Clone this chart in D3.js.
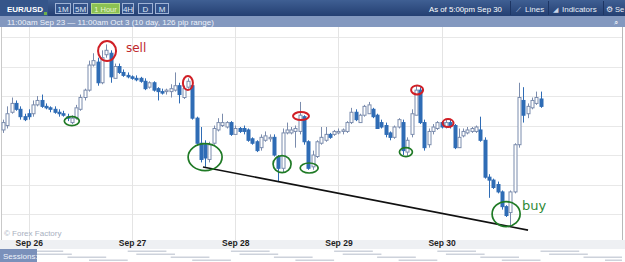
<!DOCTYPE html>
<html><head><meta charset="utf-8">
<script src="https://cdn.jsdelivr.net/npm/d3@7"></script>
<style>html,body{margin:0;padding:0;background:#fff;}svg{display:block;font-family:"Liberation Sans",Arial,sans-serif;}</style>
</head><body>
<script>
// ---- data (EUR/USD hourly candles, first candle Sep 25 18:00) ----
const firstCandle = Date.UTC(2016, 8, 25, 18);
const open = [1.1237,1.1240,1.1249,1.1255,1.1251,1.1246,1.1248,1.1248,1.1254,1.1257,
1.1253,1.1252,1.1251,1.1249,1.1248,1.1246,1.1242,1.1245,1.1251,1.1259,
1.1264,1.1281,1.1283,1.1269,1.1288,1.1289,1.1272,1.1280,1.1276,1.1274,
1.1273,1.1272,1.1272,1.1270,1.1266,1.1269,1.1265,1.1263,1.1263,1.1263,
1.1264,1.1267,1.1259,1.1266,1.1267,1.1245,1.1228,1.1227,1.1217,1.1228,
1.1237,1.1240,1.1239,1.1242,1.1234,1.1238,1.1238,1.1237,1.1231,1.1229,
1.1225,1.1230,1.1231,1.1232,1.1219,1.1211,1.1235,1.1235,1.1236,1.1236,
1.1246,1.1229,1.1212,1.1219,1.1228,1.1230,1.1234,1.1234,1.1235,1.1236,
1.1236,1.1242,1.1249,1.1242,1.1247,1.1248,1.1251,1.1247,1.1242,1.1240,
1.1235,1.1232,1.1239,1.1242,1.1222,1.1234,1.1247,1.1264,1.1242,1.1227,
1.1236,1.1238,1.1242,1.1239,1.1242,1.1240,1.1225,1.1233,1.1235,1.1236,
1.1236,1.1237,1.1230,1.1205,1.1203,1.1200,1.1195,1.1185,1.1181,1.1195,
1.1227,1.1257,1.1248,1.1252,1.1255,1.1258];
const high = [1.1244,1.1253,1.1259,1.1257,1.1253,1.1248,1.1251,1.1257,1.1260,1.1261,
1.1255,1.1253,1.1253,1.1251,1.1250,1.1248,1.1247,1.1254,1.1261,1.1265,
1.1284,1.1289,1.1286,1.1291,1.1295,1.1291,1.1282,1.1282,1.1278,1.1276,
1.1274,1.1274,1.1273,1.1272,1.1270,1.1270,1.1266,1.1265,1.1265,1.1268,
1.1276,1.1269,1.1267,1.1272,1.1269,1.1246,1.1239,1.1230,1.1229,1.1240,
1.1245,1.1248,1.1243,1.1243,1.1240,1.1239,1.1240,1.1238,1.1232,1.1230,
1.1234,1.1236,1.1234,1.1234,1.1220,1.1238,1.1242,1.1239,1.1240,1.1256,
1.1247,1.1230,1.1223,1.1230,1.1239,1.1239,1.1235,1.1237,1.1238,1.1238,
1.1243,1.1252,1.1251,1.1248,1.1254,1.1256,1.1252,1.1248,1.1244,1.1242,
1.1236,1.1240,1.1245,1.1244,1.1232,1.1251,1.1267,1.1266,1.1244,1.1238,
1.1241,1.1243,1.1243,1.1244,1.1244,1.1241,1.1238,1.1238,1.1239,1.1239,
1.1240,1.1246,1.1232,1.1207,1.1204,1.1202,1.1196,1.1186,1.1196,1.1228,
1.1269,1.1266,1.1255,1.1259,1.1263,1.1263];
const low = [1.1235,1.1238,1.1248,1.1250,1.1244,1.1243,1.1244,1.1246,1.1253,1.1252,
1.1251,1.1249,1.1248,1.1246,1.1246,1.1243,1.1241,1.1244,1.1250,1.1257,
1.1263,1.1280,1.1267,1.1268,1.1286,1.1269,1.1272,1.1275,1.1273,1.1272,
1.1271,1.1270,1.1269,1.1264,1.1265,1.1263,1.1257,1.1261,1.1261,1.1259,
1.1263,1.1255,1.1258,1.1265,1.1244,1.1227,1.1215,1.1212,1.1215,1.1227,
1.1236,1.1239,1.1238,1.1233,1.1234,1.1235,1.1234,1.1229,1.1227,1.1222,
1.1223,1.1229,1.1229,1.1219,1.1202,1.1208,1.1234,1.1234,1.1225,1.1234,
1.1227,1.1210,1.1210,1.1218,1.1227,1.1229,1.1231,1.1233,1.1234,1.1234,
1.1235,1.1241,1.1243,1.1242,1.1246,1.1248,1.1245,1.1238,1.1238,1.1232,
1.1230,1.1231,1.1238,1.1220,1.1219,1.1232,1.1247,1.1241,1.1223,1.1225,
1.1234,1.1237,1.1238,1.1238,1.1238,1.1224,1.1225,1.1232,1.1234,1.1235,
1.1235,1.1229,1.1204,1.1191,1.1197,1.1194,1.1183,1.1178,1.1172,1.1194,
1.1225,1.1242,1.1245,1.1251,1.1254,1.1252];
const close = [1.1242,1.1248,1.1255,1.1251,1.1246,1.1244,1.1246,1.1254,1.1257,1.1253,
1.1252,1.1251,1.1249,1.1248,1.1247,1.1245,1.1245,1.1252,1.1259,1.1264,
1.1281,1.1284,1.1269,1.1286,1.1291,1.1273,1.1280,1.1276,1.1274,1.1273,
1.1272,1.1271,1.1270,1.1265,1.1269,1.1264,1.1263,1.1262,1.1264,1.1265,
1.1267,1.1261,1.1265,1.1270,1.1245,1.1228,1.1217,1.1218,1.1227,1.1238,
1.1242,1.1242,1.1242,1.1234,1.1238,1.1236,1.1236,1.1230,1.1228,1.1223,
1.1232,1.1233,1.1232,1.1220,1.1211,1.1235,1.1237,1.1237,1.1238,1.1247,
1.1229,1.1211,1.1220,1.1229,1.1232,1.1234,1.1232,1.1236,1.1236,1.1237,
1.1242,1.1249,1.1244,1.1247,1.1253,1.1254,1.1246,1.1238,1.1239,1.1234,
1.1232,1.1239,1.1244,1.1223,1.1230,1.1248,1.1264,1.1242,1.1225,1.1236,
1.1239,1.1242,1.1239,1.1242,1.1240,1.1225,1.1232,1.1236,1.1237,1.1238,
1.1239,1.1230,1.1205,1.1203,1.1198,1.1195,1.1185,1.1179,1.1195,1.1227,
1.1259,1.1247,1.1253,1.1257,1.1259,1.1253];
const dayTicks = ["Sep 26","Sep 27","Sep 28","Sep 29","Sep 30"];
const gridPrices = [1.1300,1.1280,1.1260,1.1240,1.1220,1.1200,1.1180];
// annotations: candle index (hours from first candle) and price
const redMarks = [[24.2,1.12905,9,10],[43.0,1.12688,5,7],[69.3,1.12464,8,4],[96.3,1.12641,6,4.5],[103.5,1.12417,5.5,4]];
const greenMarks = [[16.0,1.12430,7.5,4.5],[47.0,1.12186,17,13.5],[64.9,1.12139,9,8.5],[71.2,1.12112,9,5],[93.7,1.12220,6.5,4.5],[117.0,1.11800,14,12.5]];
const trendLine = [[46.5,1.12119],[122.1,1.11691]];
const notes = [{text:"sell", h:28.6, p:1.12898, color:"#c0282d", size:12},{text:"buy", h:120.7, p:1.11830, color:"#2f8a37", size:13}];
const sessions = [[-1,9],[1,9],[9,9],[14,9]]; // start hour offset from midnight, length (Sydney, Tokyo, London, New York)

const W = 625, H = 262;
const HOUR = 3600e3;
const t = h => new Date(firstCandle + h*HOUR);
const svg = d3.select("body").append("svg").attr("width",W).attr("height",H);

const x = d3.scaleUtc().domain([t(-0.233), t(143.95)]).range([2,622]);
const y = d3.scaleLinear().domain([1.11624,1.13068]).range([240,27]);

// header
const defs = svg.append("defs");
const g1 = defs.append("linearGradient").attr("id","hdr").attr("x1",0).attr("x2",0).attr("y1",0).attr("y2",1);
g1.append("stop").attr("offset",0).attr("stop-color","#3f5f93");
g1.append("stop").attr("offset",1).attr("stop-color","#243f72");
svg.append("rect").attr("x",0).attr("y",0).attr("width",W).attr("height",16).attr("fill","url(#hdr)");
svg.append("rect").attr("x",0).attr("y",16).attr("width",W).attr("height",11).attr("fill","#8398bf");
svg.append("rect").attr("x",0).attr("y",0).attr("width",48).attr("height",16).attr("fill","#35558a");
svg.append("text").attr("x",7).attr("y",11.5).attr("fill","#fff").attr("font-weight","bold").attr("font-size",8).text("EUR/USD");
svg.append("rect").attr("x",44).attr("y",12).attr("width",3).attr("height",3).attr("fill","#6fb04a");
const buttons = [["1M",55,15],["5M",73,14],["1 Hour",91,28],["4H",122,11],["D",138,14],["M",155,13]];
buttons.forEach(([lab,bx,bw])=>{
  const on = lab==="1 Hour";
  svg.append("rect").attr("x",bx+0.5).attr("y",3.5).attr("width",bw).attr("height",10)
    .attr("fill",on?"#8cc152":"#34538a").attr("stroke",on?"#b5dc8a":"#9fb3d6").attr("stroke-width",1);
  svg.append("text").attr("x",bx+0.5+bw/2).attr("y",11.5).attr("text-anchor","middle")
    .attr("fill",on?"#e6f4d5":"#dfe8f6").attr("font-size",lab==="1 Hour"?7.5:8).text(lab);
});
svg.append("text").attr("x",429).attr("y",11.5).attr("fill","#fff").attr("font-size",7.8).text("As of 5:00pm Sep 30");
svg.append("line").attr("x1",510.5).attr("x2",510.5).attr("y1",1).attr("y2",15).attr("stroke","#1d3563");
svg.append("text").attr("x",516).attr("y",11.5).attr("fill","#c9d6ea").attr("font-size",7).text("⟋");
svg.append("text").attr("x",525).attr("y",11.5).attr("fill","#e8eef8").attr("font-size",8).text("Lines");
svg.append("line").attr("x1",548.5).attr("x2",548.5).attr("y1",1).attr("y2",15).attr("stroke","#1d3563");
svg.append("text").attr("x",553).attr("y",11.5).attr("fill","#c9d6ea").attr("font-size",7).text("◢");
svg.append("text").attr("x",562).attr("y",11.5).attr("fill","#e8eef8").attr("font-size",8).text("Indicators");
svg.append("line").attr("x1",603.5).attr("x2",603.5).attr("y1",1).attr("y2",15).attr("stroke","#1d3563");
svg.append("text").attr("x",606).attr("y",11.5).attr("fill","#e8eef8").attr("font-size",7.5).text("⚙ Se");
svg.append("text").attr("x",7).attr("y",24.5).attr("fill","#eef2fa").attr("font-size",8).text("11:00am Sep 23 — 11:00am Oct 3 (10 day, 126 pip range)");
svg.append("text").attr("x",614).attr("y",25).attr("fill","#eef2fa").attr("font-size",8).text("⌕");

// plot area
svg.append("rect").attr("x",1).attr("y",27).attr("width",621).attr("height",213).attr("fill","#fff");
const days = dayTicks.map((d,i)=>new Date(Date.UTC(2016,8,26+i)));
svg.append("g").selectAll("line").data(gridPrices).join("line")
  .attr("x1",2).attr("x2",622).attr("y1",d=>Math.round(y(d))+0.5).attr("y2",d=>Math.round(y(d))+0.5)
  .attr("stroke","#e8e8e8");
svg.append("g").selectAll("line").data(days).join("line")
  .attr("x1",d=>Math.round(x(d))+0.5).attr("x2",d=>Math.round(x(d))+0.5).attr("y1",27).attr("y2",240)
  .attr("stroke","#e4e4e4");
svg.append("line").attr("x1",1.5).attr("x2",1.5).attr("y1",27).attr("y2",240).attr("stroke","#c9c9c9");
svg.append("line").attr("x1",622.5).attr("x2",622.5).attr("y1",27).attr("y2",240).attr("stroke","#b8b8b8");

svg.append("text").attr("x",4).attr("y",236).attr("fill","#a9b1bf").attr("font-size",8).text("© Forex Factory");

// candles
const candles = open.map((o,i)=>({t:t(i),o,h:high[i],l:low[i],c:close[i]}));
const UP="#7b8cad", DN="#2f6cb5";
const cg = svg.append("g");
cg.selectAll("line").data(candles).join("line")
  .attr("x1",d=>Math.round(x(d.t))+0.5).attr("x2",d=>Math.round(x(d.t))+0.5)
  .attr("y1",d=>y(d.h)).attr("y2",d=>y(d.l))
  .attr("stroke",d=>d.c>=d.o?UP:DN).attr("stroke-width",1);
cg.selectAll("rect").data(candles).join("rect")
  .attr("x",d=>Math.round(x(d.t))-1)
  .attr("y",d=>y(Math.max(d.o,d.c)))
  .attr("width",3)
  .attr("height",d=>Math.max(1,Math.abs(y(d.o)-y(d.c))))
  .attr("fill",d=>d.c>=d.o?"#fff":DN)
  .attr("stroke",d=>d.c>=d.o?UP:DN).attr("stroke-width",1);

// annotations
svg.append("line").attr("x1",x(t(trendLine[0][0]))).attr("y1",y(trendLine[0][1]))
  .attr("x2",x(t(trendLine[1][0]))).attr("y2",y(trendLine[1][1]))
  .attr("stroke","#111").attr("stroke-width",1.6);
svg.append("g").selectAll("ellipse").data(redMarks).join("ellipse")
  .attr("cx",d=>x(t(d[0]))).attr("cy",d=>y(d[1])).attr("rx",d=>d[2]).attr("ry",d=>d[3])
  .attr("fill","none").attr("stroke","#d01f26").attr("stroke-width",2);
svg.append("g").selectAll("ellipse").data(greenMarks).join("ellipse")
  .attr("cx",d=>x(t(d[0]))).attr("cy",d=>y(d[1])).attr("rx",d=>d[2]).attr("ry",d=>d[3])
  .attr("fill","none").attr("stroke","#1f7a25").attr("stroke-width",1.7);
svg.append("g").selectAll("text").data(notes).join("text")
  .attr("x",d=>x(t(d.h))).attr("y",d=>y(d.p)).attr("fill",d=>d.color)
  .attr("font-size",d=>d.size).attr("font-family","'DejaVu Sans',sans-serif").text(d=>d.text);

// x axis band
svg.append("rect").attr("x",0).attr("y",240).attr("width",W).attr("height",9).attr("fill","#eef0f3");
const ax = svg.append("g").attr("transform","translate(0,240)")
  .call(d3.axisBottom(x).tickValues(days).tickSize(0).tickPadding(2).tickFormat((d,i)=>dayTicks[i]));
ax.select(".domain").remove();
ax.selectAll("text").attr("font-size",8.5).attr("font-weight","bold").attr("fill","#1e1e1e")
  .attr("font-family","'Liberation Sans',Arial,sans-serif").attr("dy","0.5em");

// sessions
svg.append("rect").attr("x",0).attr("y",249).attr("width",W).attr("height",13).attr("fill","#fff");
const sessionBars = [];
for (let d=-1; d<6; d++) sessions.forEach((s,k)=>sessionBars.push({k, a:new Date(Date.UTC(2016,8,26+d,0)+s[0]*HOUR), b:new Date(Date.UTC(2016,8,26+d,0)+(s[0]+s[1])*HOUR)}));
svg.append("g").selectAll("rect").data(sessionBars).join("rect")
  .attr("x",d=>Math.max(37,x(d.a))).attr("width",d=>Math.max(0,Math.min(622,x(d.b))-Math.max(37,x(d.a))))
  .attr("y",d=>250.5+d.k*3).attr("height",1.5).attr("fill","#cdd2db");
svg.append("rect").attr("x",0).attr("y",249).attr("width",37).attr("height",13).attr("fill","#7a90ba");
svg.append("text").attr("x",3).attr("y",258.5).attr("fill","#eef2fa").attr("font-size",8).text("Sessions:");
</script>
</body></html>
